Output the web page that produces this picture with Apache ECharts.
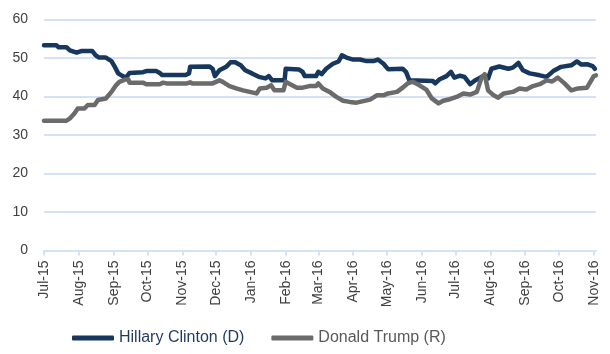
<!DOCTYPE html>
<html>
<head>
<meta charset="utf-8">
<script src="https://cdn.jsdelivr.net/npm/echarts@6/dist/echarts.min.js"></script>
<style>
  html, body { margin: 0; padding: 0; background: #fff; }
  #chart { width: 610px; height: 354px; }
</style>
</head>
<body>
<div id="chart"></div>
<script>
// polling averages
const clintonDates = [
  "2015-07-01", "2015-07-12", "2015-07-14", "2015-07-21", "2015-07-24", "2015-07-30",
  "2015-08-03", "2015-08-13", "2015-08-16", "2015-08-19", "2015-08-25", "2015-08-30",
  "2015-09-02", "2015-09-05", "2015-09-09", "2015-09-12", "2015-09-15", "2015-09-27",
  "2015-09-30", "2015-10-09", "2015-10-12", "2015-10-14", "2015-11-04", "2015-11-07",
  "2015-11-08", "2015-11-25", "2015-11-28", "2015-11-30", "2015-12-04", "2015-12-10",
  "2015-12-14", "2015-12-18", "2015-12-23", "2015-12-27", "2016-01-02", "2016-01-08",
  "2016-01-14", "2016-01-17", "2016-01-20", "2016-01-31", "2016-02-01", "2016-02-13",
  "2016-02-16", "2016-02-18", "2016-02-28", "2016-03-01", "2016-03-04", "2016-03-08",
  "2016-03-14", "2016-03-19", "2016-03-22", "2016-03-26", "2016-04-01", "2016-04-07",
  "2016-04-13", "2016-04-19", "2016-04-23", "2016-04-28", "2016-05-02", "2016-05-15",
  "2016-05-18", "2016-05-21", "2016-06-11", "2016-06-13", "2016-06-17", "2016-06-23",
  "2016-06-27", "2016-06-30", "2016-07-05", "2016-07-09", "2016-07-14", "2016-07-18",
  "2016-07-23", "2016-07-27", "2016-07-30", "2016-08-02", "2016-08-09", "2016-08-17",
  "2016-08-21", "2016-08-26", "2016-08-30", "2016-09-05", "2016-09-14", "2016-09-20",
  "2016-09-26", "2016-10-03", "2016-10-12", "2016-10-17", "2016-10-21", "2016-10-26",
  "2016-10-31", "2016-11-02"
];
const clintonValues = [
  53.3, 53.3, 52.8, 52.8, 52.0, 51.4,
  51.8, 51.8, 50.7, 50.1, 50.1, 49.2,
  47.7, 46.0, 45.3, 44.9, 46.1, 46.3,
  46.6, 46.6, 46.1, 45.6, 45.6, 46.0,
  47.7, 47.8, 47.2, 45.3, 46.8, 47.7,
  48.9, 48.9, 48.1, 46.8, 46.0, 45.1,
  44.7, 45.3, 44.2, 44.2, 47.2, 47.0,
  46.4, 45.3, 45.3, 46.4, 45.8, 47.2,
  48.5, 49.1, 50.7, 50.1, 49.6, 49.6,
  49.2, 49.2, 49.6, 48.5, 47.1, 47.2,
  46.4, 44.2, 44.0, 43.4, 44.5, 45.3,
  46.4, 44.9, 45.4, 45.1, 43.2, 44.1,
  44.9, 45.5, 44.7, 47.2, 47.8, 47.2,
  47.5, 48.7, 46.8, 46.0, 45.5, 45.1,
  46.6, 47.7, 48.1, 49.1, 48.3, 48.4,
  47.9, 47.2
];

const trumpDates = [
  "2015-07-01", "2015-07-21", "2015-07-24", "2015-07-28", "2015-07-31", "2015-08-06",
  "2015-08-09", "2015-08-15", "2015-08-18", "2015-08-25", "2015-08-28", "2015-08-31",
  "2015-09-03", "2015-09-06", "2015-09-11", "2015-09-14", "2015-09-15", "2015-09-27",
  "2015-09-30", "2015-10-12", "2015-10-15", "2015-10-18", "2015-11-05", "2015-11-08",
  "2015-11-10", "2015-11-28", "2015-12-04", "2015-12-07", "2015-12-13", "2015-12-19",
  "2015-12-25", "2015-12-31", "2016-01-06", "2016-01-09", "2016-01-15", "2016-01-19",
  "2016-01-22", "2016-01-30", "2016-02-01", "2016-02-05", "2016-02-11", "2016-02-16",
  "2016-02-22", "2016-02-28", "2016-03-01", "2016-03-05", "2016-03-11", "2016-03-17",
  "2016-03-23", "2016-03-29", "2016-04-04", "2016-04-10", "2016-04-16", "2016-04-22",
  "2016-04-28", "2016-05-02", "2016-05-10", "2016-05-15", "2016-05-20", "2016-05-24",
  "2016-05-30", "2016-06-05", "2016-06-10", "2016-06-16", "2016-06-20", "2016-06-26",
  "2016-07-02", "2016-07-08", "2016-07-14", "2016-07-20", "2016-07-24", "2016-07-27",
  "2016-07-30", "2016-08-04", "2016-08-08", "2016-08-13", "2016-08-21", "2016-08-27",
  "2016-09-02", "2016-09-08", "2016-09-14", "2016-09-20", "2016-09-25", "2016-09-30",
  "2016-10-06", "2016-10-12", "2016-10-18", "2016-10-26", "2016-10-29", "2016-11-01",
  "2016-11-03"
];
const trumpValues = [
  33.7, 33.7, 34.3, 35.6, 36.9, 36.9,
  37.8, 37.8, 39.1, 39.5, 40.5, 41.6,
  42.9, 43.8, 44.4, 44.4, 43.6, 43.6,
  43.2, 43.2, 43.6, 43.4, 43.4, 43.7,
  43.4, 43.4, 44.2, 43.8, 42.7, 42.1,
  41.6, 41.2, 40.8, 42.1, 42.3, 42.9,
  41.6, 41.6, 43.8, 43.2, 42.3, 42.3,
  42.7, 42.7, 43.4, 42.1, 41.2, 39.9,
  38.9, 38.6, 38.4, 38.8, 39.2, 40.3,
  40.3, 40.8, 41.2, 42.3, 43.5, 43.8,
  42.9, 41.8, 39.5, 38.2, 38.9, 39.3,
  39.9, 40.8, 40.5, 41.2, 44.7, 45.8,
  41.6, 40.3, 39.7, 40.8, 41.2, 42.1,
  41.8, 42.7, 43.2, 44.2, 43.9, 44.9,
  43.4, 41.6, 42.1, 42.3, 43.8, 45.3,
  45.5
];

const monthTicks = [
  "2015-07-01", "2015-08-01", "2015-09-01", "2015-10-01", "2015-11-01", "2015-12-01",
  "2016-01-01", "2016-02-01", "2016-03-01", "2016-04-01", "2016-05-01", "2016-06-01",
  "2016-07-01", "2016-08-01", "2016-09-01", "2016-10-01", "2016-11-01"
];
const monthNames = ["Jan", "Feb", "Mar", "Apr", "May", "Jun", "Jul", "Aug", "Sep", "Oct", "Nov", "Dec"];
const yTicks = [0, 10, 20, 30, 40, 50, 60];

function toTime(s) {
  const p = s.split("-").map(Number);
  return new Date(p[0], p[1] - 1, p[2]).getTime();
}
const tickTimes = monthTicks.map(toTime);

const font = "'Liberation Sans', Arial, sans-serif";
const gridColor = "#d3e2f4";

const chart = echarts.init(document.getElementById("chart"));
chart.setOption({
  animation: false,
  textStyle: { fontFamily: font },
  grid: {
    left: 44,
    right: 14,
    top: 19.5,
    bottom: 103.5,
    outerBoundsMode: "none"
  },
  legend: {
    left: 67,
    top: 325,
    itemWidth: 42,
    itemHeight: 5,
    itemGap: 27,
    icon: "roundRect",
    textStyle: { fontSize: 16 },
    data: [
      { name: "Hillary Clinton (D)", textStyle: { color: "#1f3a5f" } },
      { name: "Donald Trump (R)", textStyle: { color: "#595959" } }
    ]
  },
  xAxis: {
    // dates as timestamps on a plain value axis, ticks at each month start
    type: "value",
    min: toTime("2015-07-01"),
    max: toTime("2016-11-03"),
    axisLine: { lineStyle: { color: gridColor, width: 2 } },
    axisTick: {
      show: true,
      length: 5,
      customValues: tickTimes,
      lineStyle: { color: gridColor, width: 2 }
    },
    axisLabel: {
      customValues: tickTimes,
      rotate: 90,
      margin: 10,
      fontSize: 14,
      color: "#404040",
      formatter: function (v) {
        const d = new Date(v);
        return monthNames[d.getMonth()] + "-" + String(d.getFullYear()).slice(2);
      }
    },
    splitLine: { show: false }
  },
  yAxis: {
    type: "value",
    min: yTicks[0],
    max: yTicks[yTicks.length - 1],
    interval: 10,
    axisLine: { show: false },
    axisTick: { show: false },
    axisLabel: { fontSize: 14, color: "#404040", margin: 16 },
    splitLine: { lineStyle: { color: gridColor, width: 2 } }
  },
  series: [
    {
      name: "Hillary Clinton (D)",
      type: "line",
      showSymbol: false,
      symbol: "none",
      color: "#17375e",
      lineStyle: { width: 4.5, color: "#17375e", cap: "round", join: "round" },
      data: clintonDates.map((d, i) => [toTime(d), clintonValues[i]])
    },
    {
      name: "Donald Trump (R)",
      type: "line",
      showSymbol: false,
      symbol: "none",
      color: "#6b6b6b",
      lineStyle: { width: 4.5, color: "#6b6b6b", cap: "round", join: "round" },
      data: trumpDates.map((d, i) => [toTime(d), trumpValues[i]])
    }
  ]
});
</script>
</body>
</html>
